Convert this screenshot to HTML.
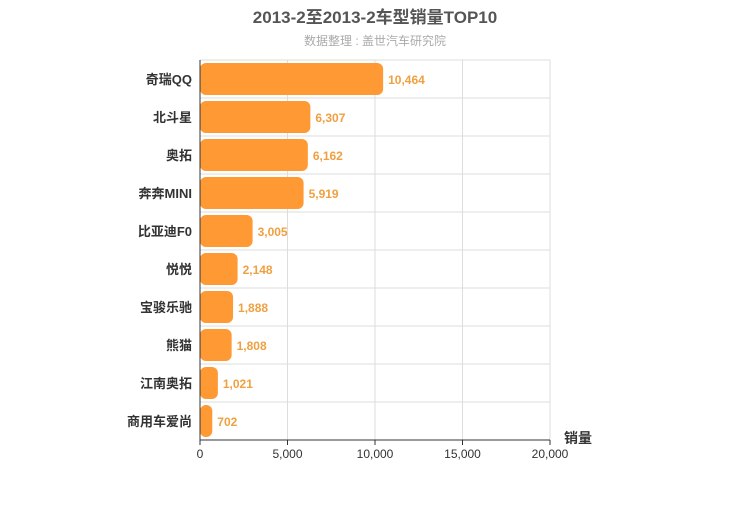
<!DOCTYPE html>
<html><head><meta charset="utf-8"><style>
body{margin:0;background:#fff;width:750px;height:500px;overflow:hidden;font-family:"Liberation Sans","Noto Sans CJK SC",sans-serif}
</style></head><body>
<svg id="chart" width="750" height="500" xmlns="http://www.w3.org/2000/svg">
<text x="375" y="23" text-anchor="middle" font-size="17" font-weight="bold" fill="#555">2013-2至2013-2车型销量TOP10</text>
<text x="375" y="45" text-anchor="middle" font-size="12" fill="#aaa">数据整理 : 盖世汽车研究院</text>
<g id="grid"></g><g id="bars"></g><g id="axes"></g>
<text x="564" y="443" font-size="14" font-weight="bold" fill="#333">销量</text>
</svg>
<script>
const categories=["奇瑞QQ","北斗星","奥拓","奔奔MINI","比亚迪F0","悦悦","宝骏乐驰","熊猫","江南奥拓","商用车爱尚"];
const values=[10464,6307,6162,5919,3005,2148,1888,1808,1021,702];
const ticks=[0,5000,10000,15000,20000];
const NS="http://www.w3.org/2000/svg";
const L=200,R=550,T=60,B=440,MAX=20000;
const x=v=>L+(R-L)*v/MAX;
const rowH=(B-T)/categories.length;
const y=i=>T+i*rowH;
function mk(tag,attrs,parent){const e=document.createElementNS(NS,tag);for(const k in attrs)e.setAttribute(k,attrs[k]);document.getElementById(parent).appendChild(e);return e;}
const fmt=v=>v.toLocaleString("en-US");
ticks.forEach(t=>{
 const g=mk("line",{x1:x(t),x2:x(t),y1:T,y2:B,stroke:"#ddd","stroke-width":1},"grid");
 
 
 const tk=mk("line",{x1:x(t),x2:x(t),y1:B,y2:B+5,stroke:"#333"},"axes");
 
 
 const lb=mk("text",{x:x(t),y:B+18,"text-anchor":"middle","font-size":12,fill:"#333"},"axes");
 lb.textContent=fmt(t);
 
 
});
for(let i=0;i<=categories.length;i++){
 const h=mk("line",{x1:L,x2:R,y1:y(i),y2:y(i),stroke:"#ddd"},"grid");
 
 
}
categories.forEach((c,i)=>{
 const v=values[i];
 const b=mk("rect",{x:L,y:y(i)+3,width:x(v)-L,height:rowH-6,rx:6,ry:6,fill:"#ff9933"},"bars");
 
 
 const vl=mk("text",{x:x(v)+5,y:y(i)+rowH/2+5,"font-size":12,"font-weight":"bold",fill:"#f0a040"},"bars");
 vl.textContent=fmt(v);
 
 
 const cl=mk("text",{x:L-8,y:y(i)+rowH/2+5,"text-anchor":"end","font-size":13,"font-weight":"bold",fill:"#333"},"axes");
 cl.textContent=c;
 
 
});
const ya=mk("line",{x1:L,x2:L,y1:T,y2:B,stroke:"#333"},"axes");


const xa=mk("line",{x1:L,x2:R,y1:B,y2:B,stroke:"#333"},"axes");


</script>
</body></html>
